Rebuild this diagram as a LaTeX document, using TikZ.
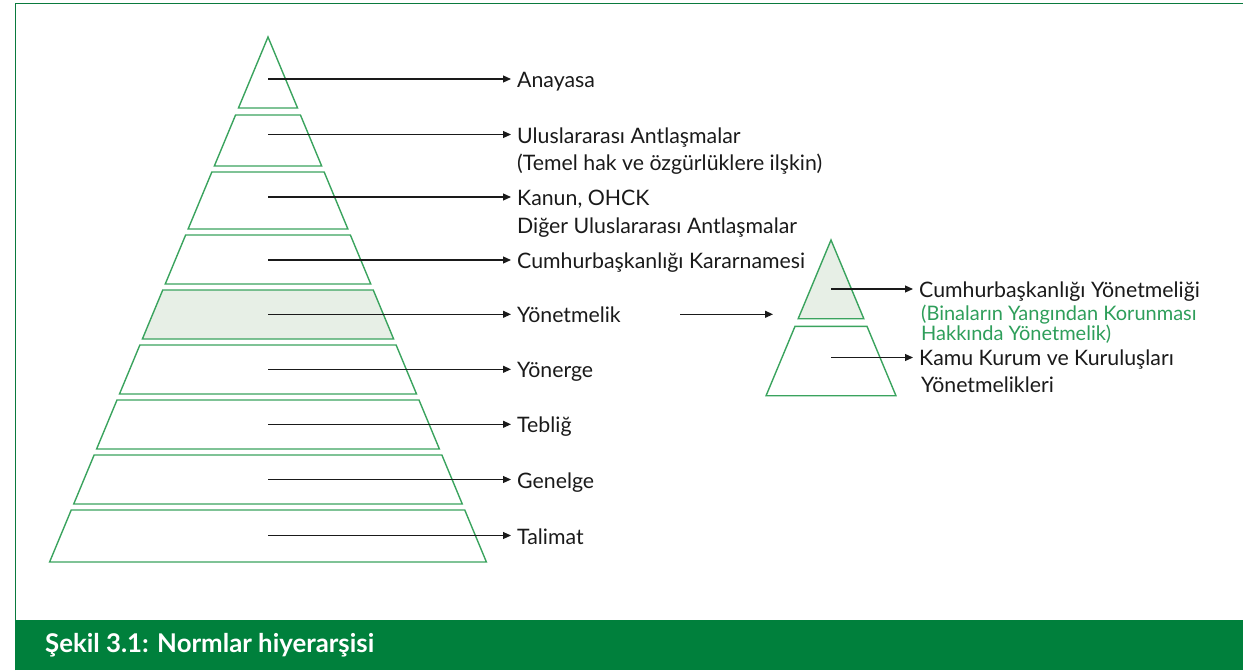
\documentclass[tikz,border=0pt]{standalone}
\usepackage{fontspec}
\setmainfont{Lato}
\usetikzlibrary{arrows.meta}
\definecolor{framegreen}{HTML}{0A7A3E}
\definecolor{bargreen}{HTML}{00803C}
\definecolor{linegreen}{HTML}{3AA35E}
\definecolor{pale}{HTML}{E7EFE6}
\definecolor{txtgreen}{HTML}{2E9E5A}
\definecolor{txt}{HTML}{1A1A1A}
\newcommand\mytrap[4]{% #1 name, #2 top, #3 bottom, #4 style
  \draw[#4] ({268-0.416*(#2-37)},#2) -- ({268+0.416*(#2-37)},#2) -- ({268+0.416*(#3-37)},#3) -- ({268-0.416*(#3-37)},#3) -- cycle;}
\newcommand\mysmalltrap[3]{% #1 top, #2 bottom, #3 style
  \draw[#3] ({831-0.417*(#1-240)},#1) -- ({831+0.417*(#1-240)},#1) -- ({831+0.417*(#2-240)},#2) -- ({831-0.417*(#2-240)},#2) -- cycle;}
\tikzset{
  outl/.style={draw=linegreen, line width=1.4pt, line join=miter},
  shadedoutl/.style={outl, fill=pale},
  lbl/.style={anchor=base west, inner xsep=6pt, inner ysep=0pt, font=\fontsize{21.3}{21.3}\selectfont, text=txt},
  lbl2/.style={anchor=base west, inner xsep=0pt, inner ysep=0pt, font=\fontsize{21.3}{21.3}\selectfont, text=txt},
  glbl/.style={anchor=base west, inner xsep=0pt, inner ysep=0pt, font=\fontsize{20}{20}\selectfont, text=txtgreen},
  arr/.style={draw=txt, line width=1.1pt, -{Triangle[length=8pt,width=7pt]}},
}
\begin{document}
\begin{tikzpicture}[x=1pt,y=-1pt]
\useasboundingbox (0,0) rectangle (1243,670);
% frame
\draw[framegreen, line width=1.5pt] (15.5,670) -- (15.5,3.5) -- (1243,3.5);
\fill[bargreen] (15,620) rectangle (1243,670);
\node[anchor=base west, inner sep=0pt, text=white, font=\fontsize{25.8}{25.8}\selectfont\bfseries] (cap) at (45,652.5) {Şekil 3.1: Normlar hiyerarşisi};
% big pyramid
\draw[outl] (268,37) -- ({268+0.416*71},108) -- ({268-0.416*71},108) -- cycle;
\mytrap{l2}{115}{166}{outl}
\mytrap{l3}{172}{229}{outl}
\mytrap{l4}{235}{284}{outl}
\mytrap{l5}{290}{339}{shadedoutl}
\mytrap{l6}{345}{394}{outl}
\mytrap{l7}{400}{449}{outl}
\mytrap{l8}{455}{504}{outl}
\mytrap{l9}{510}{562}{outl}
% coordinates inside levels
\coordinate (c1) at (268,79);
\coordinate (c2) at (268,134.5);
\coordinate (c3) at (268,197);
\coordinate (c4) at (268,260);
\coordinate (c5) at (268,314.3);
\coordinate (c6) at (268,369.3);
\coordinate (c7) at (268,424.3);
\coordinate (c8) at (268,479.5);
\coordinate (c9) at (268,535.5);
% labels
\node[lbl] (t1) at (511,87.5) {Anayasa};
\node[lbl] (t2) at (511,143) {Uluslararası Antlaşmalar};
\node[lbl2] (t2b) at (517,170) {(Temel hak ve özgürlüklere ilşkin)};
\node[lbl] (t3) at (511,205.5) {Kanun, OHCK};
\node[lbl2] (t3b) at (517,233) {Diğer Uluslararası Antlaşmalar};
\node[lbl] (t4) at (511,268.5) {Cumhurbaşkanlığı Kararnamesi};
\node[lbl] (t5) at (511,322.8) {Yönetmelik};
\node[lbl] (t6) at (511,377.8) {Yönerge};
\node[lbl] (t7) at (511,432.8) {Tebliğ};
\node[lbl] (t8) at (511,488) {Genelge};
\node[lbl] (t9) at (511,544) {Talimat};
\foreach \i in {1,...,9} \draw[arr] (c\i) -- (c\i -| t\i.west);
% small pyramid
\draw[shadedoutl] (831,240) -- ({831+0.417*78.7},318.7) -- ({831-0.417*78.7},318.7) -- cycle;
\mysmalltrap{326.3}{395.7}{outl}
\coordinate (s1) at (831,289);
\coordinate (s2) at (831,357.5);
\node[lbl] (u1) at (913,297) {Cumhurbaşkanlığı Yönetmeliği};
\node[glbl] (u1b) at (921,320) {(Binaların Yangından Korunması};
\node[glbl] (u1c) at (921,340) {Hakkında Yönetmelik)};
\node[lbl] (u2) at (913,365.5) {Kamu Kurum ve Kuruluşları};
\node[lbl2] (u2b) at (921,392) {Yönetmelikleri};
\draw[arr] (s1) -- (s1 -| u1.west);
\draw[arr] (s2) -- (s2 -| u2.west);
% middle arrow
\coordinate (m0) at (680,314.3);
\coordinate (m1) at (773,314.3);
\draw[arr] (m0) -- (m1);
\end{tikzpicture}
\end{document}
